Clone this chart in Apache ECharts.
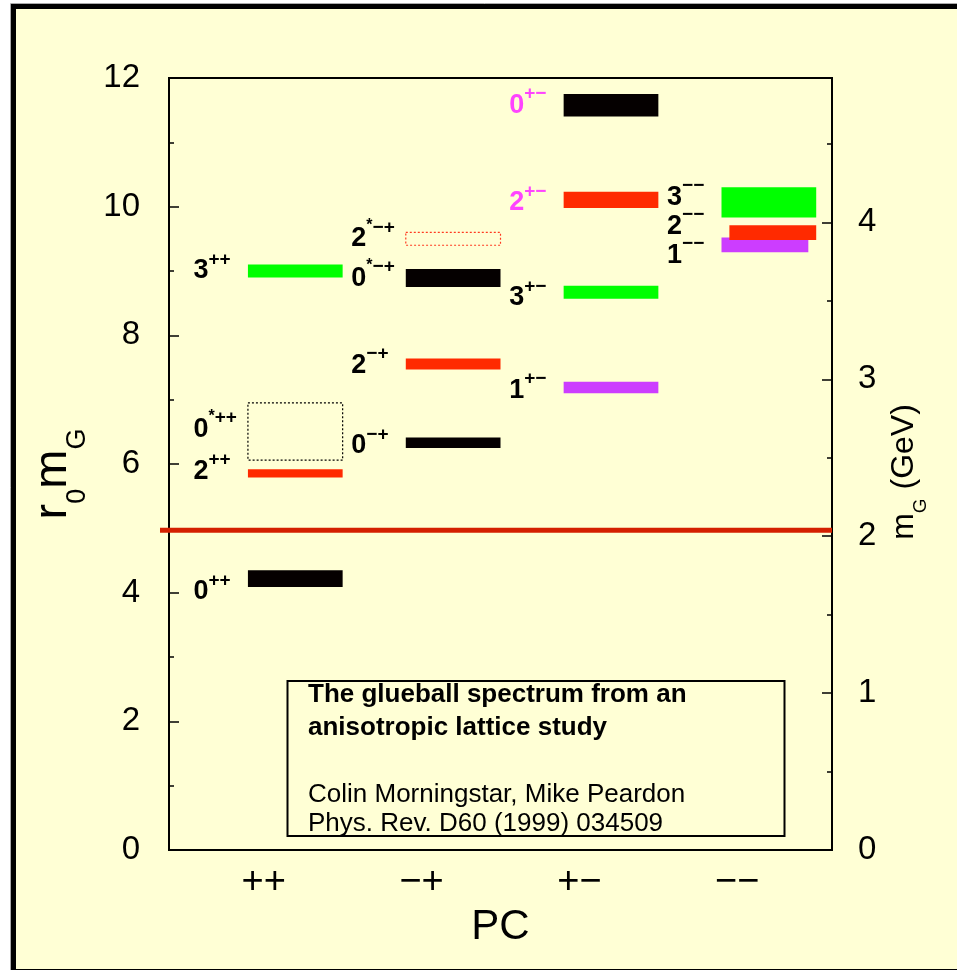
<!DOCTYPE html>
<html><head><meta charset="utf-8">
<script src="https://cdn.jsdelivr.net/npm/echarts@6/dist/echarts.min.js"></script>
<style>html,body{margin:0;padding:0;background:#fff}#c{width:957px;height:970px}</style>
</head><body><div id="c"></div>
<script>
// ---------- data ----------
const pcCategories = ['++', '\u2212+', '+\u2212', '\u2212\u2212'];
const stateNames   = ['0++','2++','0*++','3++', '0-+','2-+','0*-+','2*-+', '1+-','3+-','2+-','0+-', '1--','2--','3--'];
const stateJ       = [0, 2, 0, 3,   0, 2, 0, 2,   1, 3, 2, 0,   1, 2, 3];
const statePC      = [0, 0, 0, 0,   1, 1, 1, 1,   2, 2, 2, 2,   3, 3, 3];
const stateExcited = [false,false,true,false, false,false,true,true, false,false,false,false, false,false,false];
const stateTentative = [false,false,true,false, false,false,false,true, false,false,false,false, false,false,false];
const massLow      = [4.09, 5.79, 6.06, 8.90,  6.25, 7.47, 8.75, 9.40,  7.10, 8.57, 9.98, 11.40,  9.29, 9.48, 9.83];
const massHigh     = [4.35, 5.92, 6.95, 9.10,  6.41, 7.64, 9.03, 9.60,  7.28, 8.77, 10.23, 11.75, 9.52, 9.71, 10.30];
const thresholdR0M = [4.97];
const r0InvGeV = 0.41;
const leftTicks = [0, 2, 4, 6, 8, 10, 12];
const rightTicks = [0, 1, 2, 3, 4];
const rightMinorTicks = [0.5, 1.5, 2.5, 3.5, 4.5];
const noteLines = ['The glueball spectrum from an', 'anisotropic lattice study', 'Colin Morningstar, Mike Peardon', 'Phys. Rev. D60 (1999) 034509'];

// ---------- layout / style ----------
const FONT = '"Liberation Sans", Arial, Helvetica, sans-serif';
const jColors = ['#050000', '#CC3DFF', '#FF2A00', '#00FF00'];
const layout = {
  barSpan: [-0.1, 0.5],
  barSpanOverride: {'2--': [-0.05, 0.5], '1--': [-0.1, 0.45]},
  labelDx: -0.445,
  labelY: {'0++':4.01,'2++':5.88,'0*++':6.54,'3++':9.0,'0-+':6.28,'2-+':7.53,'0*-+':8.88,'2*-+':9.50,
           '1+-':7.14,'3+-':8.58,'2+-':10.06,'0+-':11.57,'1--':9.24,'2--':9.69,'3--':10.14},
  magenta: ['0+-', '2+-']
};

function richFor(color) {
  return {
    d:  {fontSize: 27, fontWeight: 'bold', fontFamily: FONT, fill: color, lineHeight: 42},
    st: {fontSize: 16, fontWeight: 'bold', fontFamily: FONT, fill: color, lineHeight: 12, verticalAlign: 'top'},
    s:  {fontSize: 19, fontWeight: 'bold', fontFamily: FONT, fill: color, lineHeight: 16, verticalAlign: 'top'}
  };
}

const stateData = stateNames.map((n, i) => [statePC[i] + 1, massLow[i], massHigh[i], stateJ[i]]);

const chart = echarts.init(document.getElementById('c'), null, {renderer: 'canvas'});
chart.setOption({
  backgroundColor: '#ffffff',
  animation: false,
  textStyle: {fontFamily: FONT, color: '#000'},
  grid: {left: 169, top: 78, width: 663, height: 772, show: true, borderColor: '#000', borderWidth: 2, backgroundColor: 'transparent'},
  xAxis: {
    type: 'value', min: 0.4, max: 4.6,
    axisLine: {show: true, lineStyle: {color: '#000', width: 2}},
    axisTick: {show: false}, splitLine: {show: false},
    axisLabel: {customValues: [1, 2, 3, 4], formatter: v => pcCategories[Math.round(v) - 1],
                fontSize: 38, color: '#000', margin: 14, fontFamily: FONT},
    name: 'PC', nameLocation: 'middle', nameGap: 36,
    nameTextStyle: {fontSize: 42, color: '#000', fontFamily: FONT}
  },
  yAxis: [
    {
      type: 'value', min: 0, max: 12, interval: 2, position: 'left',
      axisLine: {show: true, lineStyle: {color: '#000', width: 2}},
      axisTick: {show: true, inside: true, length: 10, lineStyle: {color: '#000', width: 1.5}},
      minorTick: {show: true, splitNumber: 2, length: 5, lineStyle: {color: '#000', width: 1.5}},
      splitLine: {show: false}, minorSplitLine: {show: false},
      axisLabel: {customValues: leftTicks, fontSize: 33, color: '#000', margin: 29, fontFamily: FONT},
      name: '{a|r}{s|0}{a|m}{s|G}', nameLocation: 'middle', nameRotate: 90, nameGap: 78,
      nameTextStyle: {padding: [0, 20, 0, 0], rich: {
        a: {fontSize: 47, fontFamily: FONT, color: '#000', lineHeight: 76},
        s: {fontSize: 27, fontFamily: FONT, color: '#000', lineHeight: 8, verticalAlign: 'bottom'}
      }}
    },
    {
      type: 'value', min: 0, max: 12 * r0InvGeV, position: 'right',
      axisLine: {show: true, lineStyle: {color: '#000', width: 2}},
      axisTick: {show: true, inside: true, length: 10, customValues: rightTicks, lineStyle: {color: '#000', width: 1.5}},
      splitLine: {show: false},
      axisLabel: {customValues: rightTicks, fontSize: 33, color: '#000', margin: 26, fontFamily: FONT},
      name: '{a|m}{s|G}{a| (GeV)}', nameLocation: 'middle', nameRotate: 90, nameGap: 46,
      nameTextStyle: {padding: [0, 16, 0, 0], rich: {
        a: {fontSize: 32, fontFamily: FONT, color: '#000', lineHeight: 52},
        s: {fontSize: 19, fontFamily: FONT, color: '#000', lineHeight: 10, verticalAlign: 'bottom'}
      }}
    },
    {
      type: 'value', min: 0, max: 12 * r0InvGeV, position: 'right',
      axisLine: {show: false},
      axisTick: {show: true, inside: true, length: 5, customValues: rightMinorTicks, lineStyle: {color: '#000', width: 1.5}},
      splitLine: {show: false},
      axisLabel: {show: false}
    }
  ],
  graphic: [
    {type: 'rect', z: -100, silent: true, shape: {x: 10.5, y: 3.5, width: 1000, height: 1000}, style: {fill: 'none', stroke: '#aaaaaa', lineWidth: 1}},
    {type: 'rect', z: -99, silent: true, shape: {x: 13.5, y: 6.5, width: 1000, height: 965}, style: {fill: '#FFFFD5', stroke: '#000', lineWidth: 5}},
    {type: 'rect', z: 10, silent: true, shape: {x: 287.5, y: 681, width: 497, height: 155}, style: {fill: 'none', stroke: '#000', lineWidth: 2}},
    {type: 'text', z: 10, silent: true, x: 308, y: 695, style: {text: noteLines[0], font: 'bold 26px ' + FONT, fill: '#000', verticalAlign: 'middle'}},
    {type: 'text', z: 10, silent: true, x: 308, y: 728, style: {text: noteLines[1], font: 'bold 26px ' + FONT, fill: '#000', verticalAlign: 'middle'}},
    {type: 'text', z: 10, silent: true, x: 308, y: 795, style: {text: noteLines[2], font: '26px ' + FONT, fill: '#000', verticalAlign: 'middle'}},
    {type: 'text', z: 10, silent: true, x: 308, y: 824, style: {text: noteLines[3], font: '26px ' + FONT, fill: '#000', verticalAlign: 'middle'}}
  ],
  series: [
    {
      type: 'custom', name: 'states', xAxisIndex: 0, yAxisIndex: 0, clip: false,
      data: stateData,
      encode: {x: 0, y: [1, 2]},
      renderItem: function (params, api) {
        const i = params.dataIndex;
        const name = stateNames[i];
        const col = api.value(0), lo = api.value(1), hi = api.value(2), J = api.value(3);
        const span = layout.barSpanOverride[name] || layout.barSpan;
        const p0 = api.coord([col + span[0], hi]);
        const p1 = api.coord([col + span[1], lo]);
        const color = jColors[J];
        const rect = {
          type: 'rect',
          shape: {x: p0[0], y: p0[1], width: p1[0] - p0[0], height: p1[1] - p0[1]},
          style: stateTentative[i]
            ? {fill: 'none', stroke: J === 2 ? '#FF3A20' : '#000', lineWidth: 1.2, lineDash: [2, 2]}
            : {fill: color}
        };
        const labColor = layout.magenta.indexOf(name) >= 0 ? '#FF44FF' : '#000';
        const lp = api.coord([col + layout.labelDx, layout.labelY[name]]);
        const txt = '{d|' + J + '}' + (stateExcited[i] ? '{st|*}' : '') + '{s|' + pcCategories[statePC[i]] + '}';
        const text = {
          type: 'text', x: lp[0], y: lp[1],
          style: {text: txt, rich: richFor(labColor), align: 'left', verticalAlign: 'middle'}
        };
        return {type: 'group', children: [rect, text]};
      }
    },
    {
      type: 'custom', name: 'threshold', xAxisIndex: 0, yAxisIndex: 0, clip: false, z: 5,
      data: thresholdR0M.map(v => [v]),
      encode: {y: 0},
      renderItem: function (params, api) {
        const v = api.value(0);
        const a = api.coord([0.343, v]);
        const b = api.coord([4.6, v]);
        return {type: 'line', shape: {x1: a[0], y1: a[1], x2: b[0], y2: b[1]}, style: {stroke: '#D42000', lineWidth: 5}};
      }
    }
  ]
});
</script>
</body></html>
